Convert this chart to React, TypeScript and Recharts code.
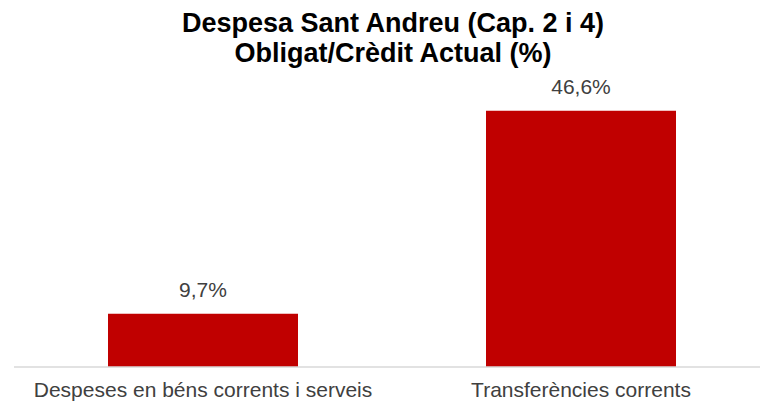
import React from "react";
import { Bar, BarChart, LabelList, XAxis, YAxis } from "recharts";

const categories = ["Despeses en béns corrents i serveis", "Transferències corrents"];
const values = [9.7, 46.6];
const titleLines = ["Despesa Sant Andreu (Cap. 2 i 4)", "Obligat/Crèdit Actual (%)"];

const data = categories.map((name, i) => ({ name, value: values[i] }));

const font = "'Liberation Sans', Arial, sans-serif";
const fmt = (v: number) => v.toFixed(1).replace(".", ",") + "%";

export default function App() {
  return (
    <div style={{ position: "absolute", top: 0, left: 0, width: 760, height: 404, background: "#fff", overflow: "hidden" }}>
      <div
        style={{
          position: "absolute",
          top: 8,
          left: 13,
          width: 760,
          textAlign: "center",
          fontFamily: font,
          fontWeight: "bold",
          fontSize: 27,
          lineHeight: "30px",
          color: "#000",
        }}
      >
        {titleLines.map((t) => (
          <div key={t}>{t}</div>
        ))}
      </div>
      <BarChart width={760} height={404} data={data} margin={{ top: 92, right: -10, bottom: 7, left: 14 }}>
        <XAxis
          dataKey="name"
          axisLine={{ stroke: "#d9d9d9", strokeWidth: 1.5 }}
          tickLine={false}
          tickSize={0}
          tickMargin={15}
          interval={0}
          tick={{ fill: "#404040", fontSize: 21, fontFamily: font }}
        />
        <YAxis hide domain={[0, 50]} />
        <Bar dataKey="value" fill="#c00000" barSize={190} isAnimationActive={false}>
          <LabelList
            dataKey="value"
            position="top"
            offset={17}
            formatter={(v: number) => fmt(v)}
            style={{ fill: "#404040", fontSize: 21, fontFamily: font }}
          />
        </Bar>
      </BarChart>
    </div>
  );
}
